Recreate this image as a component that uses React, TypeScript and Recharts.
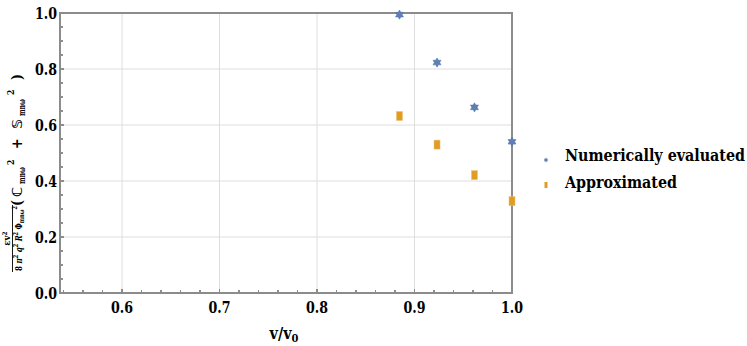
import { ScatterChart, Scatter, XAxis, YAxis, CartesianGrid, Legend, Label, ReferenceArea } from 'recharts';

const velocityRatio = [0.8846, 0.9231, 0.9615, 1.0];
const numericallyEvaluated = [0.994, 0.823, 0.663, 0.54];
const approximatedValues = [0.632, 0.53, 0.421, 0.328];

const xMajorTicks = [0.6, 0.7, 0.8, 0.9, 1.0];
const xMinorTicks = [0.54, 0.56, 0.58, 0.62, 0.64, 0.66, 0.68, 0.72, 0.74, 0.76, 0.78, 0.82, 0.84, 0.86, 0.88, 0.92, 0.94, 0.96, 0.98];
const yMajorTicks = [0, 0.2, 0.4, 0.6, 0.8, 1.0];
const yMinorTicks = [0.05, 0.1, 0.15, 0.25, 0.3, 0.35, 0.45, 0.5, 0.55, 0.65, 0.7, 0.75, 0.85, 0.9, 0.95];

const seriesNames = ['Numerically evaluated', 'Approximated'];

const BLUE = '#5E81B5';
const ORANGE = '#E19C24';
const FRAME = '#8c8c8c';
const FONT = 'DejaVu Serif Condensed, DejaVu Sans, serif';
const X_MIN = 0.5364;

const numericData = velocityRatio.map((x, i) => ({ x, y: numericallyEvaluated[i] }));
const approxData = velocityRatio.map((x, i) => ({ x, y: approximatedValues[i] }));

const xTicks = [...xMinorTicks, ...xMajorTicks].sort((a, b) => a - b);
const yTicks = [...yMinorTicks, ...yMajorTicks].sort((a, b) => a - b);

const labelStyle = { fontFamily: FONT, fontWeight: 'bold' as const };

function starPoints(cx: number, cy: number, r: number) {
  const pts: string[] = [];
  for (let i = 0; i < 12; i++) {
    const rr = i % 2 === 0 ? r : r * 0.58;
    const a = (Math.PI / 6) * i - Math.PI / 2;
    pts.push(`${cx + rr * Math.cos(a)},${cy + rr * Math.sin(a)}`);
  }
  return pts.join(' ');
}

const StarShape = (props: any) => {
  const { cx, cy } = props;
  return <polygon points={starPoints(cx, cy, 4.6)} fill={BLUE} stroke="#4a6ea8" strokeWidth={0.5} />;
};

const RectShape = (props: any) => {
  const { cx, cy } = props;
  return <rect x={cx - 3} y={cy - 4.5} width={6} height={9} fill={ORANGE} stroke="#f0c070" strokeWidth={0.5} />;
};

const tickStroke = { stroke: FRAME, strokeWidth: 1.2, fill: 'none', shapeRendering: 'crispEdges' as const };

const BottomTick = (props: any) => {
  const { x, y, payload } = props;
  const major = xMajorTicks.includes(payload.value);
  return (
    <g>
      <path d={`M${x},${y}V${y - (major ? 4 : 2.7)}`} {...tickStroke} />
      {major && (
        <text x={x} y={y + 20} textAnchor="middle" style={{ ...labelStyle, fontSize: 16 }} fill="#000" textLength={22} lengthAdjust="spacingAndGlyphs">
          {payload.value.toFixed(1)}
        </text>
      )}
    </g>
  );
};

const TopTick = (props: any) => {
  const { x, y, payload } = props;
  const major = xMajorTicks.includes(payload.value);
  return <path d={`M${x},${y}V${y + (major ? 4 : 2.7)}`} {...tickStroke} />;
};

const LeftTick = (props: any) => {
  const { x, y, payload } = props;
  const major = yMajorTicks.includes(payload.value);
  return (
    <g>
      <path d={`M${x},${y}H${x + (major ? 4 : 2.7)}`} {...tickStroke} />
      {major && (
        <text x={x - 3} y={y + 6} textAnchor="end" style={{ ...labelStyle, fontSize: 16 }} fill="#000" textLength={22} lengthAdjust="spacingAndGlyphs">
          {payload.value.toFixed(1)}
        </text>
      )}
    </g>
  );
};

const RightTick = (props: any) => {
  const { x, y, payload } = props;
  const major = yMajorTicks.includes(payload.value);
  return <path d={`M${x},${y}H${x - (major ? 4 : 2.7)}`} {...tickStroke} />;
};

const XLabel = (props: any) => {
  const { x, width, y } = props.viewBox;
  return (
    <text x={x + width / 2 - 2} y={y + 46} textAnchor="middle" style={{ ...labelStyle, fontSize: 16 }} fill="#000">
      v/v<tspan fontSize={11} dy={3}>0</tspan>
    </text>
  );
};

// y label laid out along the rotated baseline: local x runs upwards from y=272, local y=0 sits at page x=22
const YLabel = (props: any) => {
  const { y, height } = props.viewBox;
  const start = y + height - 21;
  const big = 14;
  const sub = 9;
  const sup = 8.5;
  return (
    <g transform={`translate(22, ${start}) rotate(-90)`} style={labelStyle} fill="#000">
      <text x={33.5} y={-12} textAnchor="middle" fontSize={9.5}>
        εv<tspan fontSize={6.5} dy={-3}>2</tspan>
      </text>
      <line x1={0} x2={67} y1={-9.5} y2={-9.5} stroke="#000" strokeWidth={0.9} />
      <text x={33.5} y={0} textAnchor="middle" fontSize={10} textLength={65} lengthAdjust="spacingAndGlyphs">
        8 <tspan fontStyle="italic">π</tspan>
        <tspan fontSize={7} dy={-4}>2</tspan>
        <tspan dy={4}> </tspan>
        <tspan fontStyle="italic">q</tspan>
        <tspan fontSize={7} dy={-4}>2</tspan>
        <tspan dy={4}> </tspan>
        <tspan fontStyle="italic">R</tspan>
        <tspan fontSize={7} dy={-4}>2</tspan>
        <tspan dy={4}> Φ</tspan>
        <tspan fontSize={7} dy={2}>mnω</tspan>
        <tspan fontSize={7} dy={-7}>2</tspan>
      </text>
      <text x={66} y={0} fontSize={big}>(</text>
      <text x={75} y={0} fontSize={big}>ℂ</text>
      <text x={88} y={3} fontSize={sub} textLength={17} lengthAdjust="spacingAndGlyphs">mnω</text>
      <text x={107} y={-8} fontSize={sup}>2</text>
      <text x={123} y={0} fontSize={big}>+</text>
      <text x={143} y={0} fontSize={big}>𝕊</text>
      <text x={156} y={3} fontSize={sub} textLength={17} lengthAdjust="spacingAndGlyphs">mnω</text>
      <text x={177} y={-8} fontSize={sup}>2</text>
      <text x={192} y={0} fontSize={big}>)</text>
    </g>
  );
};

const LegendContent = () => (
  <svg width={217} height={60}>
    <polygon points={starPoints(16, 20, 2.4)} fill={BLUE} />
    <text x={35} y={21} style={{ ...labelStyle, fontSize: 16 }} fill="#000" textLength={180} lengthAdjust="spacingAndGlyphs">
      {seriesNames[0]}
    </text>
    <rect x={14.5} y={42} width={3} height={6} fill={ORANGE} />
    <text x={35} y={48} style={{ ...labelStyle, fontSize: 16 }} fill="#000" textLength={112} lengthAdjust="spacingAndGlyphs">
      {seriesNames[1]}
    </text>
  </svg>
);

export default function App() {
  return (
    <div style={{ position: 'absolute', left: 0, top: 0, width: 747, height: 346, background: '#fff' }}>
      <ScatterChart width={747} height={346} margin={{ top: 13, right: 235, bottom: 0, left: 0 }}>
        <CartesianGrid
          xAxisId="main"
          yAxisId="main"
          stroke="#dedede"
          verticalValues={[0.6, 0.7, 0.8, 0.9]}
          horizontalValues={[0.2, 0.4, 0.6, 0.8]}
        />
        <ReferenceArea
          xAxisId="main"
          yAxisId="main"
          x1={X_MIN}
          x2={1.0}
          y1={0}
          y2={1}
          fill="none"
          stroke={FRAME}
          strokeWidth={1.2}
          shapeRendering="crispEdges"
          ifOverflow="visible"
        />
        <XAxis
          xAxisId="main"
          type="number"
          dataKey="x"
          domain={[X_MIN, 1.0]}
          ticks={xTicks}
          interval={0}
          height={53}
          tickSize={0}
          tickMargin={0}
          tickLine={false}
          axisLine={false}
          tick={<BottomTick />}
        >
          <Label content={<XLabel />} />
        </XAxis>
        <XAxis
          xAxisId="top"
          orientation="top"
          mirror
          type="number"
          dataKey="x"
          domain={[X_MIN, 1.0]}
          ticks={xTicks}
          interval={0}
          height={0}
          tickSize={0}
          tickMargin={0}
          tickLine={false}
          axisLine={false}
          tick={<TopTick />}
        />
        <YAxis
          yAxisId="main"
          type="number"
          dataKey="y"
          domain={[0, 1]}
          ticks={yTicks}
          interval={0}
          width={60}
          tickSize={0}
          tickMargin={0}
          tickLine={false}
          axisLine={false}
          tick={<LeftTick />}
        >
          <Label content={<YLabel />} />
        </YAxis>
        <YAxis
          yAxisId="right"
          orientation="right"
          mirror
          type="number"
          dataKey="y"
          domain={[0, 1]}
          ticks={yTicks}
          interval={0}
          width={0}
          tickSize={0}
          tickMargin={0}
          tickLine={false}
          axisLine={false}
          tick={<RightTick />}
        />
        <Legend
          layout="horizontal"
          align="center"
          verticalAlign="middle"
          content={<LegendContent />}
          wrapperStyle={{ left: 530, top: 140, width: 217 }}
        />
        <Scatter
          name={seriesNames[0]}
          data={numericData}
          xAxisId="main"
          yAxisId="main"
          shape={<StarShape />}
          isAnimationActive={false}
        />
        <Scatter
          name={seriesNames[1]}
          data={approxData}
          xAxisId="main"
          yAxisId="main"
          shape={<RectShape />}
          isAnimationActive={false}
        />
      </ScatterChart>
    </div>
  );
}
